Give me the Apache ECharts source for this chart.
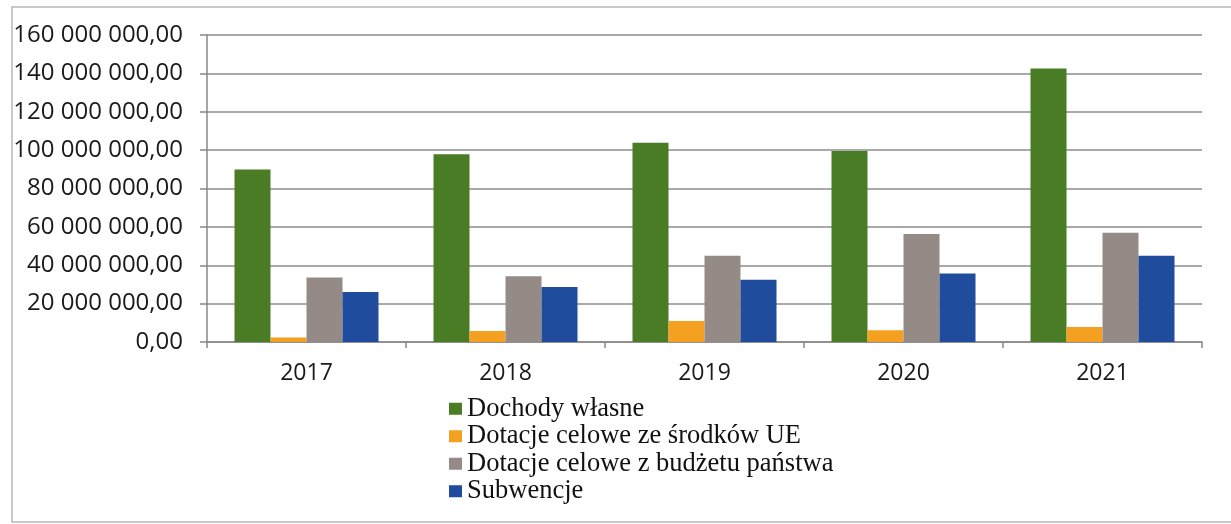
<!DOCTYPE html>
<html>
<head>
<meta charset="utf-8">
<script src="https://cdn.jsdelivr.net/npm/echarts@6/dist/echarts.min.js"></script>
<style>
  html, body { margin: 0; padding: 0; background: #fff; }
  #main { width: 1231px; height: 524px; }
</style>
</head>
<body>
<div id="main"></div>
<script>
// data
const years = ['2017', '2018', '2019', '2020', '2021'];
const dochodyWlasne = [89900000, 97900000, 103800000, 99500000, 142500000];
const dotacjeUE = [2300000, 5700000, 11000000, 6100000, 7800000];
const dotacjeBudzet = [33600000, 34300000, 44900000, 56300000, 56900000];
const subwencje = [26100000, 28700000, 32500000, 35700000, 44900000];
const seriesNames = ['Dochody własne', 'Dotacje celowe ze środków UE', 'Dotacje celowe z budżetu państwa', 'Subwencje'];
const colors = ['#4a7b25', '#f4a020', '#958b86', '#1f4c9c'];

function fmt(v) {
  const s = Math.round(v).toString().replace(/\B(?=(\d{3})+(?!\d))/g, ' ');
  return s + ',00';
}

var chartDom = document.getElementById('main');
var myChart = echarts.init(chartDom);

const values = [dochodyWlasne, dotacjeUE, dotacjeBudzet, subwencje];

var option = {
  backgroundColor: '#fff',
  animation: false,
  color: colors,
  grid: { left: 207, right: 29, top: 35, bottom: 182 },
  graphic: [{
    type: 'rect',
    shape: { x: 12, y: 7, width: 1240, height: 515 },
    style: { fill: 'none', stroke: '#b8b8b8', lineWidth: 1.5 },
    silent: true
  }],
  legend: {
    orient: 'vertical',
    left: 449,
    top: 395,
    padding: 0,
    itemGap: 0,
    itemWidth: 13,
    itemHeight: 12,
    icon: 'rect',
    data: seriesNames,
    textStyle: {
      fontFamily: '"Liberation Serif", serif',
      fontSize: 26.5,
      lineHeight: 27.5,
      color: '#111'
    }
  },
  xAxis: {
    type: 'category',
    data: years,
    axisLine: { lineStyle: { color: '#888', width: 1.5 } },
    axisTick: { show: true, length: 6, lineStyle: { color: '#888', width: 1.5 } },
    axisLabel: {
      margin: 20,
      fontFamily: '"Open Sans", sans-serif',
      fontSize: 23,
      color: '#1a1a1a'
    }
  },
  yAxis: {
    type: 'value',
    min: 0,
    max: 160000000,
    interval: 20000000,
    axisLine: { show: true, lineStyle: { color: '#888', width: 1.5 } },
    axisTick: { show: true, length: 7, lineStyle: { color: '#888', width: 1.5 } },
    splitLine: { lineStyle: { color: '#8c8c8c', width: 1.5 } },
    axisLabel: {
      margin: 24,
      fontFamily: '"Open Sans", sans-serif',
      fontSize: 24,
      color: '#1a1a1a',
      formatter: fmt
    }
  },
  series: seriesNames.map((name, i) => ({
    name: name,
    type: 'bar',
    barWidth: 36,
    barGap: '0%',
    data: values[i]
  }))
};

option && myChart.setOption(option);
window.addEventListener('resize', () => {
  myChart.resize();
});
</script>
</body>
</html>
